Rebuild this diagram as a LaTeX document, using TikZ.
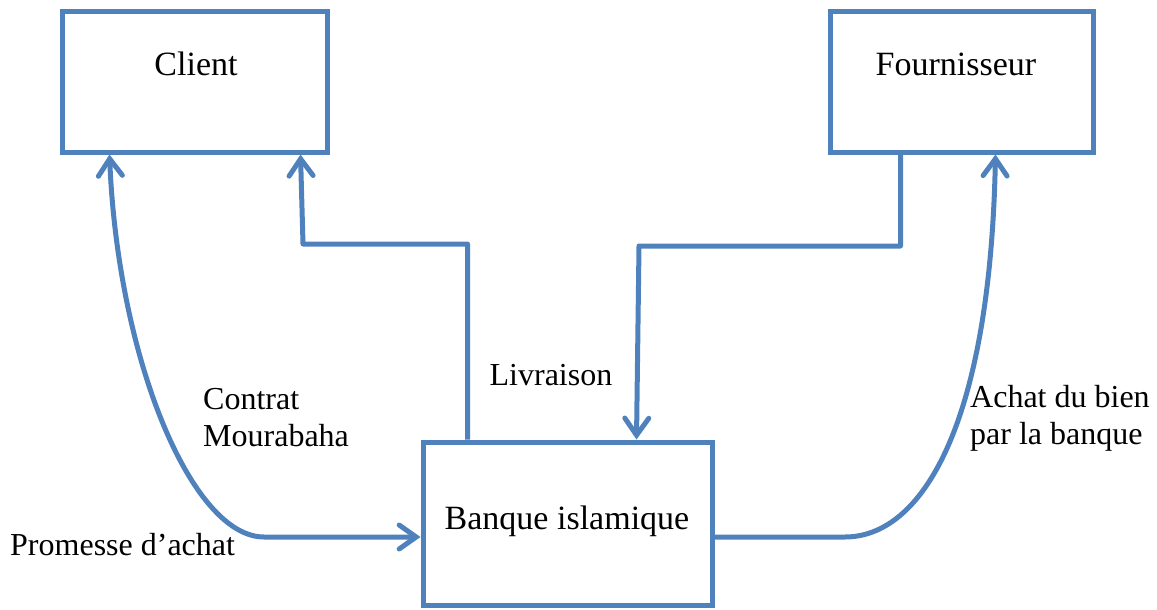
\documentclass[tikz,border=0pt]{standalone}
\usepackage{fontspec}
\setmainfont{Liberation Serif}
\usetikzlibrary{arrows.meta}
\definecolor{flow}{HTML}{4F81BD}
\begin{document}
\begin{tikzpicture}[x=1pt,y=-1pt,
  box/.style={draw=flow,line width=5pt,rectangle,inner sep=0pt,fill=white},
  boxtext/.style={font=\fontsize{34}{40}\selectfont,inner sep=0pt},
  lbl/.style={font=\fontsize{32}{37}\selectfont,inner sep=0pt,align=left},
  link/.style={draw=flow,line width=5pt,line join=round,
    arrows={-Straight Barb[length=17pt,width=24pt,line cap=round]}},
  both/.style={link,arrows={Straight Barb[length=17pt,width=24pt,line cap=round]-Straight Barb[length=17pt,width=24pt,line cap=round]}}]
\useasboundingbox (0,0) rectangle (1157,610);

% boxes
\node[box,minimum width=265pt,minimum height=140pt] (client) at (194.5,82) {};
\node[box,minimum width=263pt,minimum height=140pt] (fourn) at (961.5,82) {};
\node[box,minimum width=289pt,minimum height=163pt] (banque) at (567.5,523.5) {};

\node[boxtext] (tclient) at (196,64) {Client};
\node[boxtext] (tfourn) at (956,64) {Fournisseur};
\node[boxtext] (tbanque) at (567,521) {Banque islamique};

% delivery from the bank to the client
\draw[link] ([xshift=47pt]banque.north west) |- (303,244) -- ([xshift=241pt]client.south west);
% purchase of the goods delivered by the supplier
\draw[link] ([xshift=73pt]fourn.south west) |- (639,246) -- ([xshift=216pt]banque.north west);
% purchase promise / Mourabaha contract
\draw[both] ([xshift=50pt]client.south west) .. controls (118,360) and (192,537) .. (264,537) -- ([yshift=-13.5pt]banque.west);
% bank buys the goods
\draw[link] ([yshift=-13.5pt]banque.east) -- (845,537) .. controls (920,537) and (990,430) .. ([xshift=168pt]fourn.south west);

% labels
\node[lbl] (livr) at (551,375) {Livraison};
\node[lbl,anchor=west] (contrat) at (203,418) {Contrat\\Mourabaha};
\node[lbl,anchor=west] (achat) at (970,418) {Achat du bien\\par la banque};
\node[lbl,anchor=west] (promesse) at (10,545) {Promesse d’achat};
\end{tikzpicture}
\end{document}
